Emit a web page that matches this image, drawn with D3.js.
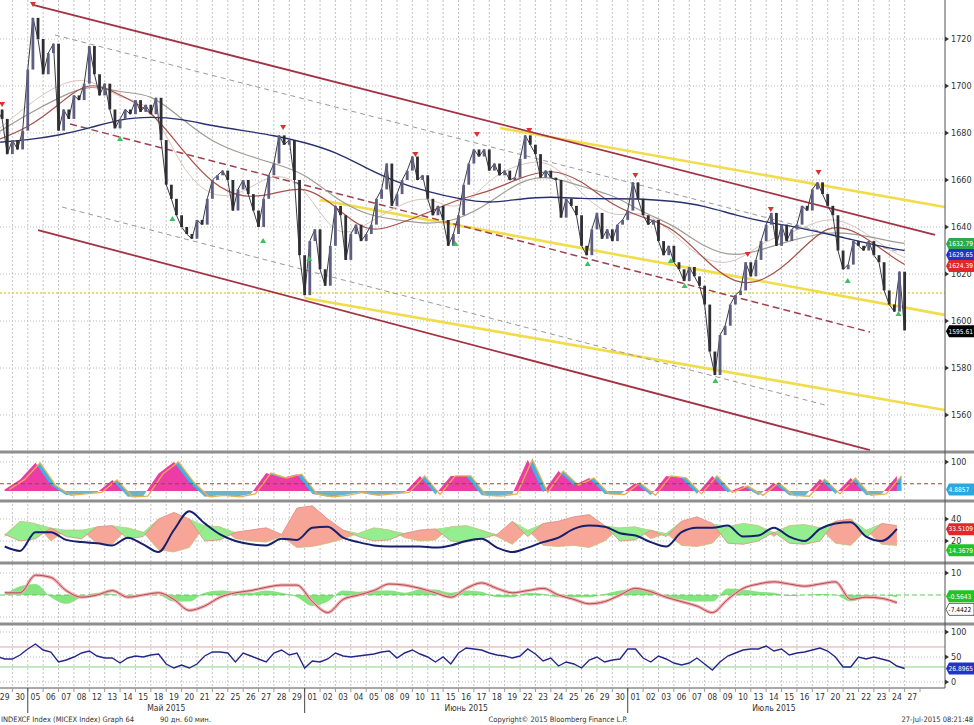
<!DOCTYPE html>
<html>
<head>
<meta charset="utf-8">
<script src="https://cdn.jsdelivr.net/npm/d3@7"></script>
<style>
  body { margin: 0; background: #fff; }
  svg { display: block; }
  text { font-family: "DejaVu Sans Condensed", "Liberation Sans", sans-serif; }
</style>
</head>
<body>
<div id="svg-container"></div>
<script>
////////////////////////////////////////////////////////////////////
////////////////////////////  Data  ////////////////////////////////

// trading days on the x axis (one band per day)
const dayLabels = ["29","30","05","06","07","08","12","13","14","15","18","19","20","21","22","25","26","27","28","29",
  "01","02","03","04","05","08","09","10","11","15","16","17","18","19","22","23","24","25","26","29","30",
  "01","02","03","06","07","08","09","10","13","14","15","16","17","20","21","22","23","24","27"];
const monthLabels = ["Май 2015", "Июнь 2015", "Июль 2015"];
const monthStarts = [2, 20, 41]; // day index where month starts
const monthEnds = [20, 41, 60];

// hourly-ish closes, 3 per day (t = k/3)
const closes = [
  1690,1686,1671,1677,1673,1681,1707,1729,1720,1705,
  1714,1718,1681,1690,1686,1696,1694,1701,1717,1705,
  1696,1701,1690,1682,1686,1690,1688,1694,1689,1692,
  1688,1695,1677,1658,1652,1645,1640,1637,1635,1643,
  1641,1652,1660,1662,1664,1660,1647,1656,1660,1654,
  1647,1640,1652,1662,1667,1679,1675,1677,1660,1628,
  1611,1634,1639,1622,1615,1632,1649,1645,1626,1637,
  1641,1634,1637,1641,1652,1656,1667,1649,1654,1660,
  1664,1670,1660,1662,1652,1645,1649,1643,1632,1637,
  1645,1658,1667,1673,1670,1673,1664,1667,1662,1664,
  1660,1661,1669,1679,1675,1671,1661,1664,1661,1660,
  1644,1652,1649,1645,1632,1628,1639,1646,1635,1639,
  1634,1641,1643,1647,1659,1652,1645,1641,1643,1634,
  1628,1632,1625,1622,1617,1623,1619,1615,1607,1587,
  1577,1594,1598,1607,1611,1613,1625,1619,1626,1634,
  1641,1646,1632,1641,1634,1639,1641,1649,1647,1656,
  1659,1654,1649,1645,1630,1622,1624,1634,1632,1630,
  1634,1628,1625,1613,1607,1604,1621,1596
];

// moving averages, sampled every 2 days
const maDays = [0,2,4,6,8,10,12,14,16,18,20,22,24,26,28,30,32,34,36,38,40,42,44,46,48,50,52,54,56,58,59];
const maNavy = [1676,1677,1679,1682,1686,1687,1686,1683,1681,1679,1676,1672,1665,1659,1655,1652,1650,1652,1653,1652,1652,1652,1651,1649,1645,1642,1640,1637,1634,1631,1630];
const maGray = [1680,1688,1695,1701,1697,1697,1686,1676,1671,1667,1663,1652,1645,1643,1641,1643,1650,1660,1662,1657,1654,1646,1641,1631,1627,1631,1635,1638,1637,1634,1633];
const maBrown = [1677,1682,1692,1703,1696,1690,1673,1658,1652,1654,1658,1649,1637,1641,1646,1652,1655,1661,1665,1660,1649,1644,1640,1626,1615,1617,1628,1642,1638,1628,1624];
const maLight = [1681,1692,1701,1704,1694,1694,1664,1652,1654,1664,1658,1634,1641,1649,1654,1645,1661,1667,1669,1654,1643,1648,1637,1625,1624,1635,1638,1645,1640,1630,1627];

// drawn channels: [day1, price1, day2, price2]
const channelSolid = [[2.34,1734.5,60.98,1636.6],[2.67,1638.7,56.75,1545.1]];
const channelDashed = [[4.75,1683.8,56.75,1595.3]];
const channelGray = [[3.77,1721.7,58.7,1629.4],[4.23,1648.5,53.8,1564.3]];
const channelYellow = [[32.7,1682.1,61.6,1648.5],[21.0,1651.5,61.6,1602.6],[20.0,1609.8,61.6,1562.1]];
const levelYellow = [1611.9];

// swing markers [day, price]
const topMarks = [[0.33,1691.9],[2.34,1734.5],[18.6,1682.1],[27.2,1670.6],[31.2,1679.1],[34.6,1680.9],[41.5,1661.7],[48.8,1628.1],[50.3,1647.2],[53.4,1663.0]];
const bottomMarks = [[8.0,1677.9],[11.4,1643.8],[17.3,1634.5],[20.3,1626.8],[29.8,1633.2],[38.4,1624.7],[43.8,1626.0],[44.7,1615.3],[46.7,1574.9],[55.3,1617.4],[58.6,1603.4]];

// indicator panels, one value per day (t = d + 0.5)
const osc1 = [5,40,97,20,-15,-10,-5,38,-20,-18,60,100,30,-20,-15,-20,-10,62,45,58,-10,-20,-15,-5,-15,-10,-5,52,-12,52,52,-15,-18,-10,108,-5,69,20,45,-10,-12,28,-15,52,45,-10,52,-5,17,-15,28,-15,-18,41,-10,45,-15,-10,52];
const adx = [15,11,28,28,21,19,18,16,23,17,10,30,47,36,26,20,17,16,22,21,32,33,23,19,16,15,15,15,14,16,20,22,14,10,14,19,23,31,34,33,27,25,19,15,28,32,32,34,24,25,32,24,20,31,36,37,24,20,31];
const diUp = [26,20,22,32,24,22,33,34,22,24,40,46,40,20,21,28,30,32,26,50,52,40,30,24,20,21,27,30,31,20,19,22,26,38,24,36,38,42,44,34,20,21,30,24,38,42,36,18,17,20,28,18,17,20,38,40,23,36,34];
const diDn = [24,38,36,20,30,30,18,17,32,28,12,10,14,34,33,22,20,19,24,14,15,18,22,27,32,30,23,20,21,33,34,30,24,17,30,16,15,16,14,20,32,33,22,27,16,15,18,33,36,34,24,34,35,32,18,16,30,17,16];
const macd = [1,1,9,8,2,-1,0,2,-1,0,1,-2,-7,-5,-1,1,2,3.5,4.5,4.5,-3,-8,-2,0,2,5,4.5,3,1,-1,3,5.5,3,1,2,3,0,-2,-4,-3,0,3,1.5,-1,-3,-5,-8,-2,3,5,6,5,4,5,6,-2,-1,-1.5,-3.5];
const macdHist = [0,4,5,-1,-4,-1,1,0.5,-1,0.5,0,-3,-3,1,2,1.5,1,2,1,-1,-5,-3,2,1.5,2,2,1,2.5,2.5,1,2,1.5,-1,-1,1,0.5,-1,-1,-1,0.5,2,3,2.5,-1,-2,-3,-3,3,2.5,1.5,1,-0.5,0,0.5,0,-3,-1,0,-1];
// RSI, 2 per day (t = k/2)
const rsi = [51,46,46,54,66,76,64,60,40,44,50,58,62,52,48,48,38,48,52,50,
  54,56,36,28,34,28,36,52,60,60,58,40,58,52,46,40,58,64,54,58,
  28,42,40,46,58,52,50,52,54,56,60,62,48,58,64,56,50,40,50,36,
  58,68,66,64,58,54,52,48,52,66,56,42,48,32,40,36,28,44,50,40,
  44,46,66,66,48,40,52,46,38,34,38,48,36,24,40,52,58,64,66,66,
  72,62,66,54,58,60,64,68,62,50,30,30,50,46,50,46,42,32,27];

// axis ticks and last-value tags
const priceTicks = [1560,1580,1600,1620,1640,1660,1680,1700,1720];
const osc1Ticks = [100];
const adxTicks = [20,40];
const macdTicks = [10];
const rsiTicks = [0,50,100];
const mainTagValues = [1632.79, 1629.65, 1624.39, 1595.61];
const mainTagColors = ["#2ea84a", "#2233c8", "#e3262a", "#000"];

////////////////////////////////////////////////////////////////////
////////////////////////////  Init  ////////////////////////////////

const width = 974, height = 725, plotRight = 945, axisY = 688;
const svg = d3.select("#svg-container").append("svg")
  .attr("width", width).attr("height", height);

const xDay = d3.scaleLinear().domain([0, 60]).range([-3, 920]);
const yPrice = d3.scaleLinear().domain([1560, 1720]).range([415, 39]);
const yOsc = d3.scaleLinear().domain([0, 100]).range([491, 462]);
const yAdx = d3.scaleLinear().domain([20, 40]).range([541, 519]);
const yMacd = d3.scaleLinear().domain([-10, 10]).range([617, 573]);
const yRsi = d3.scaleLinear().domain([0, 100]).range([682, 632]);

const panels = [[0, 451], [453, 500], [502, 562], [564, 623], [625, axisY]];
const defs = svg.append("defs");
panels.forEach((p, i) => {
  defs.append("clipPath").attr("id", "clip" + i)
    .append("rect").attr("x", 0).attr("y", p[0]).attr("width", plotRight).attr("height", p[1] - p[0]);
});

////////////////////////////////////////////////////////////////////
////////////////////////////  Grid  ////////////////////////////////

const grid = svg.append("g");
d3.range(1, 60).forEach((d) => {
  grid.append("line")
    .attr("x1", xDay(d)).attr("x2", xDay(d)).attr("y1", 0).attr("y2", axisY)
    .attr("stroke", "#c4c4c4").attr("stroke-dasharray", "2,2");
});
const hGrid = (scale, ticks) => ticks.forEach((v) => {
  grid.append("line").attr("x1", 0).attr("x2", plotRight)
    .attr("y1", scale(v)).attr("y2", scale(v))
    .attr("stroke", "#bdbdbd").attr("stroke-dasharray", "1,2");
});
hGrid(yPrice, priceTicks);
hGrid(yOsc, osc1Ticks);
hGrid(yAdx, adxTicks);
hGrid(yMacd, [10, -10]);
hGrid(yRsi, rsiTicks);

////////////////////////////////////////////////////////////////////
////////////////////////////  Price panel  /////////////////////////

const main = svg.append("g").attr("clip-path", "url(#clip0)");
const seg = (g, list, color, w, dash) => list.forEach((s) => {
  g.append("line")
    .attr("x1", xDay(s[0])).attr("y1", yPrice(s[1]))
    .attr("x2", xDay(s[2])).attr("y2", yPrice(s[3]))
    .attr("stroke", color).attr("stroke-width", w)
    .attr("stroke-dasharray", dash || null);
});

seg(main, channelYellow, "#f1dc4a", 2.6);
levelYellow.forEach((v) => {
  main.append("line").attr("x1", 0).attr("x2", plotRight)
    .attr("y1", yPrice(v)).attr("y2", yPrice(v))
    .attr("stroke", "#e8d23c").attr("stroke-width", 1.4).attr("stroke-dasharray", "2,2");
});
seg(main, channelGray, "#9a9a9a", 1, "5,4");
seg(main, channelDashed, "#a0424e", 1.5, "7,4");
seg(main, channelSolid, "#a23244", 1.8);

const maLine = d3.line().x((d) => xDay(d[0])).y((d) => yPrice(d[1])).curve(d3.curveBasis);
[[maLight, "#d9c4bc", 1], [maGray, "#a09c94", 1.2], [maBrown, "#a8504a", 1.2], [maNavy, "#26306e", 1.4]]
  .forEach(([arr, color, w]) => {
    main.append("path").datum(maDays.map((t, i) => [t, arr[i]]))
      .attr("d", maLine).attr("fill", "none").attr("stroke", color).attr("stroke-width", w);
  });

// thin close line under the candles
main.append("path").datum(closes.map((c, i) => [i / 3, c]))
  .attr("d", d3.line().x((d) => xDay(d[0])).y((d) => yPrice(d[1])))
  .attr("fill", "none").attr("stroke", "#3a3a44").attr("stroke-width", 1);

// candles: open = previous close
const candles = closes.slice(1).map((c, i) => ({ t: (i + 1) / 3, o: closes[i], c: c }));
main.selectAll(".candle").data(candles).enter().append("rect")
  .attr("class", "candle")
  .attr("x", (d) => xDay(d.t) - 1.4)
  .attr("width", 2.8)
  .attr("y", (d) => yPrice(Math.max(d.o, d.c)))
  .attr("height", (d) => Math.max(1, Math.abs(yPrice(d.o) - yPrice(d.c))))
  .attr("fill", (d) => (d.c >= d.o ? "#5e5e80" : "#2e2e34"));

// swing markers
main.selectAll(".top").data(topMarks).enter().append("path")
  .attr("transform", (d) => `translate(${xDay(d[0])},${yPrice(d[1])})`)
  .attr("d", "M-3,-3L3,-3L0,2Z").attr("fill", "#e0302a");
main.selectAll(".bot").data(bottomMarks).enter().append("path")
  .attr("transform", (d) => `translate(${xDay(d[0])},${yPrice(d[1])})`)
  .attr("d", "M-3,3L3,3L0,-2Z").attr("fill", "#3cc060");

////////////////////////////////////////////////////////////////////
////////////////////////////  Panel 1  /////////////////////////////

const p1 = svg.append("g").attr("clip-path", "url(#clip1)");
const osc1Data = osc1.map((v, i) => [i + 0.5, v]);
const oscArea = (shift) => d3.area()
  .x((d) => xDay(d[0] + shift)).y0(yOsc(0)).y1((d) => yOsc(d[1]))
  .curve(d3.curveLinear);
defs.append("clipPath").attr("id", "osc-pos").append("rect")
  .attr("x", 0).attr("y", 453).attr("width", plotRight).attr("height", yOsc(0) - 453);
defs.append("clipPath").attr("id", "osc-neg").append("rect")
  .attr("x", 0).attr("y", yOsc(0)).attr("width", plotRight).attr("height", 500 - yOsc(0));
p1.append("path").datum(osc1Data).attr("d", oscArea(0.3))
  .attr("fill", "#3ab4ec").attr("clip-path", "url(#osc-pos)");
p1.append("path").datum(osc1Data).attr("d", oscArea(0))
  .attr("fill", "#ee3ca6").attr("clip-path", "url(#osc-pos)");
p1.append("path").datum(osc1Data).attr("d", oscArea(0))
  .attr("fill", "#6cb4c8").attr("clip-path", "url(#osc-neg)");
p1.append("path").datum(osc1Data)
  .attr("d", d3.line().x((d) => xDay(d[0] + 0.3)).y((d) => yOsc(d[1])))
  .attr("fill", "none").attr("stroke", "#e6b052").attr("stroke-width", 1.3);
p1.append("line").attr("x1", 0).attr("x2", plotRight).attr("y1", yOsc(25)).attr("y2", yOsc(25))
  .attr("stroke", "#8a4a3a").attr("stroke-dasharray", "4,3");

////////////////////////////////////////////////////////////////////
////////////////////////////  Panel 2  /////////////////////////////

const p2 = svg.append("g").attr("clip-path", "url(#clip2)");
const diData = diUp.map((u, i) => ({ t: i + 0.5, u: u, n: diDn[i] }));
p2.append("path").datum(diData)
  .attr("d", d3.area().x((d) => xDay(d.t)).y0((d) => yAdx(d.n)).y1((d) => yAdx(Math.max(d.u, d.n))))
  .attr("fill", "#f6a597");
p2.append("path").datum(diData)
  .attr("d", d3.area().x((d) => xDay(d.t)).y0((d) => yAdx(d.u)).y1((d) => yAdx(Math.max(d.u, d.n))))
  .attr("fill", "#92ee8e");
p2.append("path").datum(diData)
  .attr("d", d3.line().x((d) => xDay(d.t)).y((d) => yAdx(d.u)))
  .attr("fill", "none").attr("stroke", "#e08a80").attr("stroke-width", 0.8);
p2.append("path").datum(diData)
  .attr("d", d3.line().x((d) => xDay(d.t)).y((d) => yAdx(d.n)))
  .attr("fill", "none").attr("stroke", "#c8c078").attr("stroke-width", 0.8);
p2.append("path").datum(adx.map((v, i) => [i + 0.5, v]))
  .attr("d", d3.line().x((d) => xDay(d[0])).y((d) => yAdx(d[1])).curve(d3.curveMonotoneX))
  .attr("fill", "none").attr("stroke", "#16206e").attr("stroke-width", 2);

////////////////////////////////////////////////////////////////////
////////////////////////////  Panel 3  /////////////////////////////

const p3 = svg.append("g").attr("clip-path", "url(#clip3)");
p3.append("path").datum(macdHist.map((v, i) => [i + 0.5, v]))
  .attr("d", d3.area().x((d) => xDay(d[0])).y0(yMacd(0)).y1((d) => yMacd(d[1])).curve(d3.curveMonotoneX))
  .attr("fill", "#84e47e");
p3.append("line").attr("x1", 0).attr("x2", plotRight).attr("y1", yMacd(0)).attr("y2", yMacd(0))
  .attr("stroke", "#5cc85c").attr("stroke-dasharray", "5,3");
const macdLine = d3.line().x((d) => xDay(d[0])).y((d) => yMacd(d[1])).curve(d3.curveMonotoneX);
p3.append("path").datum(macd.map((v, i) => [i + 0.5, v])).attr("d", macdLine)
  .attr("fill", "none").attr("stroke", "#f5a9b2").attr("stroke-width", 3.2);
p3.append("path").datum(macd.map((v, i) => [i + 0.5, v])).attr("d", macdLine)
  .attr("fill", "none").attr("stroke", "#9a4a40").attr("stroke-width", 0.9);

////////////////////////////////////////////////////////////////////
////////////////////////////  Panel 4  /////////////////////////////

const p4 = svg.append("g").attr("clip-path", "url(#clip4)");
[[70, "#e8a4aa"], [30, "#8ccf88"]].forEach(([v, c]) => {
  p4.append("line").attr("x1", 0).attr("x2", plotRight).attr("y1", yRsi(v)).attr("y2", yRsi(v))
    .attr("stroke", c).attr("stroke-width", 1.2);
});
p4.append("path").datum(rsi.map((v, i) => [i / 2, v]))
  .attr("d", d3.line().x((d) => xDay(d[0])).y((d) => yRsi(d[1])))
  .attr("fill", "none").attr("stroke", "#25288a").attr("stroke-width", 1.4);

////////////////////////////////////////////////////////////////////
////////////////////////////  Frame & axes  ////////////////////////

[452, 501, 563, 624].forEach((y) => {
  svg.append("line").attr("x1", 0).attr("x2", width).attr("y1", y).attr("y2", y)
    .attr("stroke", "#8e8e8e").attr("stroke-width", 3);
});
svg.append("line").attr("x1", plotRight).attr("x2", plotRight).attr("y1", 0).attr("y2", axisY)
  .attr("stroke", "#555");
svg.append("line").attr("x1", 0).attr("x2", plotRight).attr("y1", axisY).attr("y2", axisY)
  .attr("stroke", "#555");

const rightAxis = (scale, ticks) => ticks.forEach((v) => {
  const y = scale(v);
  svg.append("path").attr("d", `M${plotRight},${y - 2.5}L${plotRight + 4},${y}L${plotRight},${y + 2.5}Z`)
    .attr("fill", "#333");
  svg.append("text").attr("x", plotRight + 6).attr("y", y).attr("dy", "0.35em")
    .attr("font-size", 9).attr("fill", "#333").text(v);
});
rightAxis(yPrice, priceTicks);
rightAxis(yOsc, osc1Ticks);
rightAxis(yAdx, adxTicks);
rightAxis(yMacd, macdTicks);
rightAxis(yRsi, rsiTicks);

// last value tags
const tag = (y, label, fill, textColor) => {
  svg.append("path")
    .attr("d", `M${plotRight + 1},${y}L${plotRight + 4},${y - 6}L${width},${y - 6}L${width},${y + 6}L${plotRight + 4},${y + 6}Z`)
    .attr("fill", fill).attr("stroke", textColor === "#000" ? "#000" : "none").attr("stroke-width", 0.6);
  svg.append("text").attr("x", plotRight + 3.5).attr("y", y).attr("dy", "0.35em")
    .attr("font-size", 6.6).attr("fill", textColor).text(label);
};
let lastY = -100;
mainTagValues.forEach((v, i) => {
  const y = Math.max(yPrice(v), lastY + 11);
  lastY = y;
  tag(y, v.toFixed(2), mainTagColors[i], "#fff");
});
tag(yOsc(4.8857), "4.8857", "#2aa8e0", "#fff");
tag(yAdx(33.5109) + 3, "33.5109", "#e3262a", "#fff");
tag(yAdx(14.3679) + 3, "14.3679", "#22c322", "#fff");
tag(yMacd(-0.5643), "-0.5643", "#22c322", "#fff");
tag(yMacd(-7.4422) - 2, "-7.4422", "#fff", "#000");
tag(yRsi(26.8965), "26.8965", "#2233c8", "#fff");

// x axis: days, months
d3.range(0, 61).forEach((d) => {
  svg.append("line").attr("x1", xDay(d)).attr("x2", xDay(d)).attr("y1", axisY).attr("y2", axisY + 4)
    .attr("stroke", "#999");
});
svg.selectAll(".day").data(dayLabels).enter().append("text")
  .attr("x", (d, i) => xDay(i + 0.5)).attr("y", 700)
  .attr("text-anchor", "middle").attr("font-size", 8.5).attr("fill", "#333").text((d) => d);
monthStarts.forEach((s, i) => {
  svg.append("line").attr("x1", xDay(s)).attr("x2", xDay(s)).attr("y1", axisY).attr("y2", 713)
    .attr("stroke", "#444");
  svg.append("text").attr("x", xDay((s + monthEnds[i]) / 2)).attr("y", 711)
    .attr("text-anchor", "middle").attr("font-size", 8.5).attr("fill", "#333").text(monthLabels[i]);
});

// footer
const foot = (x, anchor, s) => svg.append("text").attr("x", x).attr("y", 722)
  .attr("text-anchor", anchor).attr("font-size", 7.5).attr("fill", "#333").text(s);
foot(1, "start", "INDEXCF Index (MICEX Index) Graph 64");
foot(160, "start", "90 дн. 60 мин.");
foot(558, "middle", "Copyright© 2015 Bloomberg Finance L.P.");
foot(973, "end", "27-Jul-2015 08:21:48");
</script>
</body>
</html>
